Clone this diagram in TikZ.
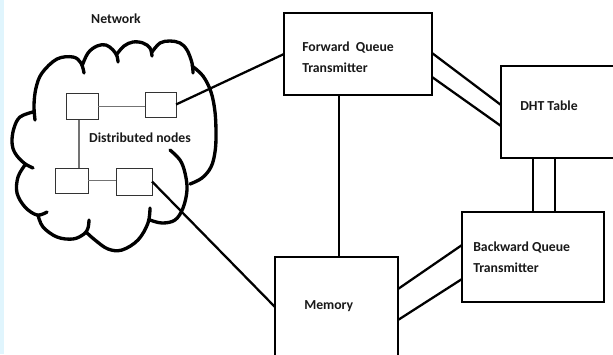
\documentclass[tikz,border=0pt]{standalone}
\usepackage{fontspec}
\setmainfont{Carlito}
\begin{document}
\begin{tikzpicture}[x=0.75pt,y=-0.75pt,
  box/.style={draw, line width=1.8pt, inner sep=0pt, outer sep=0pt},
  unit/.style={draw=black!80, line width=0.7pt, inner sep=0pt, outer sep=0pt},
  link/.style={line width=1.7pt},
  thin link/.style={draw=black!55, line width=0.8pt},
  txt/.style={font=\fontsize{10.3}{15.75}\selectfont\bfseries, text=black!90, inner sep=0pt, align=left, anchor=west},
  puff/.style={line width=2.5pt, line cap=round}]

\useasboundingbox (0,0) rectangle (613,354);
\clip (0,0) rectangle (613,354);

% pale strip along the left edge
\fill[cyan!12] (0,0) rectangle (4,354);

% ---- network cloud, drawn puff by puff ----
\draw[puff] plot[smooth, tension=0.6] coordinates {(35,120) (34,105) (36,88) (42,73) (57,59) (73,57) (81,63) (84,73)};
\draw[puff] plot[smooth, tension=0.6] coordinates {(82,66) (88,53) (97,46) (106,45) (113,50) (117,56) (118,62)};
\draw[puff] plot[smooth, tension=0.6] coordinates {(117,54) (124,46) (133,42) (143,43) (150,48) (152,56)};
\draw[puff] plot[smooth, tension=0.6] coordinates {(152,52) (160,43) (170,41) (180,43) (187,50) (192,63) (193,73)};
\draw[puff] plot[smooth, tension=0.6] coordinates {(192,66) (203,76) (211,92) (215,112) (216,135) (215,152) (211,167) (202,178) (190,184)};
\draw[puff] plot[smooth, tension=0.6] coordinates {(170,150) (180,160) (185,173) (187,190) (183,208) (175,220) (162,223) (150,220)};
\draw[puff] plot[smooth, tension=0.6] coordinates {(150,208) (148,223) (138,240) (122,250) (108,249) (95,240) (86,232)};
\draw[puff] plot[smooth, tension=0.6] coordinates {(89,220) (88,228) (84,234) (73,239) (57,237) (43,227) (38,215)};
\draw[puff] plot[smooth, tension=0.6] coordinates {(25,165) (18,177) (17,193) (25,207) (37,215) (47,212)};
\draw[puff] plot[smooth, tension=0.6] coordinates {(33,112) (20,117) (14,128) (12,142) (15,153) (24,163) (33,168)};

% ---- distributed nodes inside the cloud ----
\node[unit, minimum width=32*0.75pt, minimum height=26*0.75pt] (n1) at (82,106.5) {};
\node[unit, minimum width=31*0.75pt, minimum height=25*0.75pt] (n2) at (160.5,104.5) {};
\node[unit, minimum width=33*0.75pt, minimum height=25*0.75pt] (n3) at (71.5,180.5) {};
\node[unit, minimum width=36*0.75pt, minimum height=27*0.75pt] (n4) at (134,181.5) {};

\draw[thin link] (n1.east) -- (n1.east -| n2.west);
\path (n1.south west) ++(13,0) coordinate (v1);
\draw[thin link] (v1) -- (v1 |- n3.north);
\draw[thin link] (n3.east) -- (n3.east -| n4.west);

% ---- main blocks ----
\node[box, minimum width=148*0.75pt, minimum height=82*0.75pt] (fq) at (358,54) {};
\node[box, minimum width=124*0.75pt, minimum height=92*0.75pt] (dht) at (563,112) {};
\node[box, minimum width=142*0.75pt, minimum height=90*0.75pt] (bq) at (533,257) {};
\node[box, minimum width=123*0.75pt, minimum height=143*0.75pt] (mem) at (336.5,328.5) {};

% ---- labels ----
\node[txt, anchor=center] (net) at (116,19) {Network};
\node[txt, anchor=center] (dn) at (140,138) {Distributed nodes};
\node[txt] (fqt) at (302,57.5) {Forward\ \ Queue\\Transmitter};
\node[txt] (dhtt) at (520,106) {DHT Table};
\node[txt] (bqt) at (473,257) {Backward Queue\\Transmitter};
\node[txt] (memt) at (304,306) {Memory};

% ---- connectors ----
\path (mem.north west) ++(0,50) coordinate (memin);
\draw[link] (n2.east) -- (fq.west);
\draw[link] (n4.east) -- (memin);

\path (fq.south west) ++(55,0) coordinate (fqdown);
\draw[link] (fqdown) -- (fqdown |- mem.north);

\path (fq.north east) ++(0,40) coordinate (fqr1);
\path (fq.north east) ++(0,64) coordinate (fqr2);
\path (dht.north west) ++(0,39) coordinate (dhl1);
\path (dht.north west) ++(0,60) coordinate (dhl2);
\draw[link] (fqr1) -- (dhl1);
\draw[link] (fqr2) -- (dhl2);

\path (dht.south west) ++(32,0) coordinate (dhb1);
\path (dht.south west) ++(54,0) coordinate (dhb2);
\draw[link] (dhb1) -- (dhb1 |- bq.north);
\draw[link] (dhb2) -- (dhb2 |- bq.north);

\path (mem.north east) ++(0,32) coordinate (memr1);
\path (mem.north east) ++(0,63) coordinate (memr2);
\path (bq.north west) ++(0,33) coordinate (bql1);
\path (bq.north west) ++(0,67) coordinate (bql2);
\draw[link] (memr1) -- (bql1);
\draw[link] (memr2) -- (bql2);
\end{tikzpicture}
\end{document}
